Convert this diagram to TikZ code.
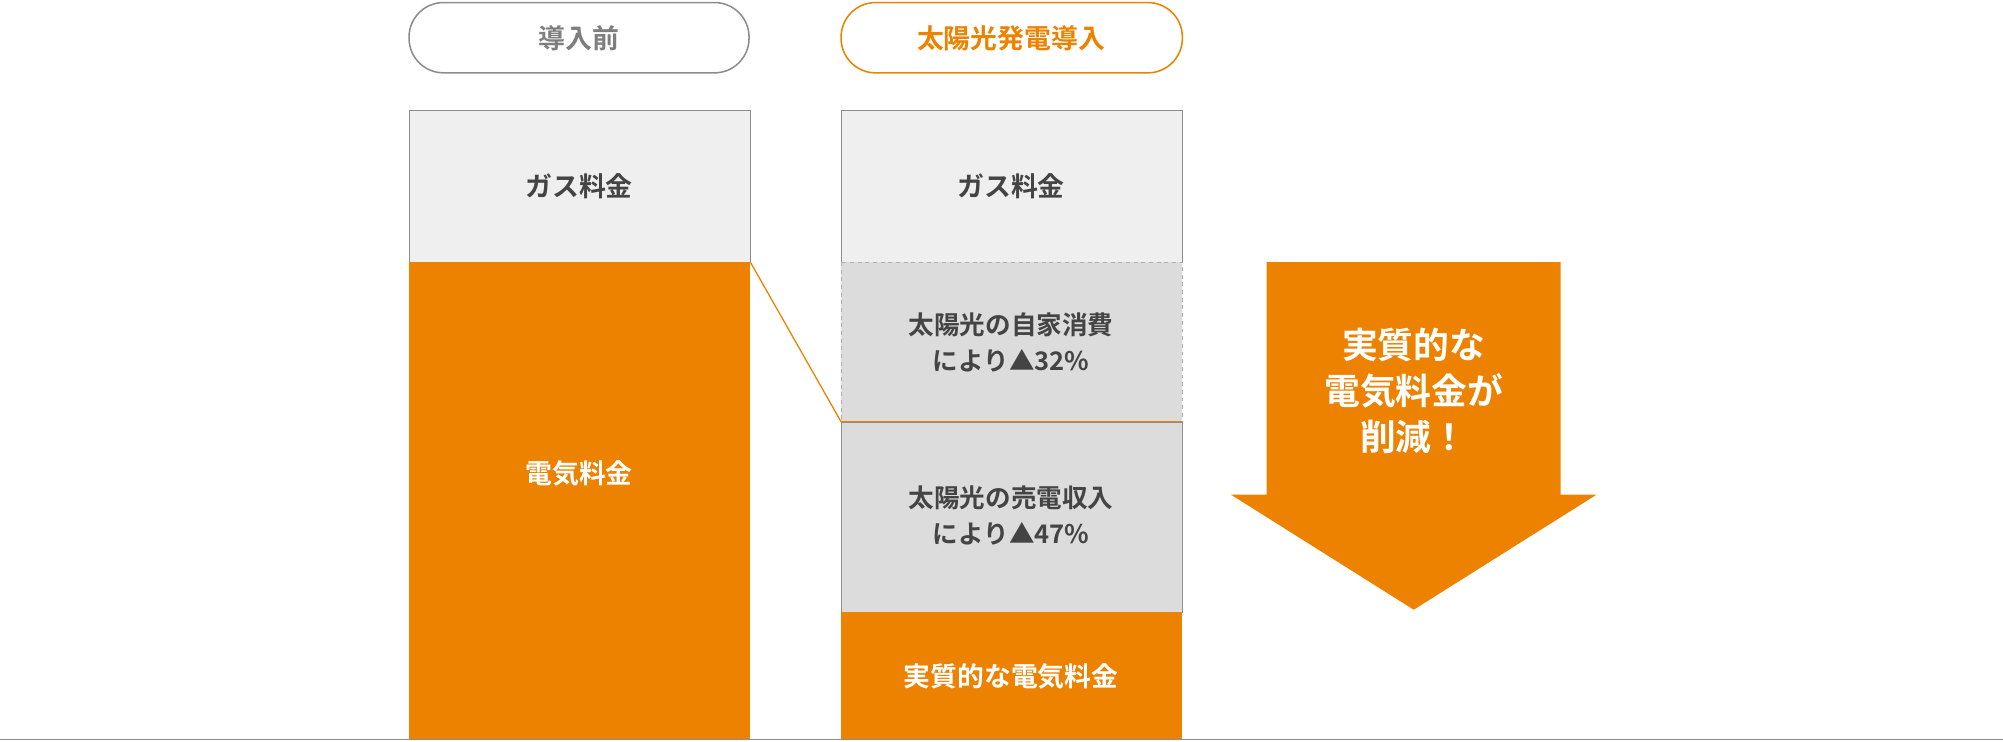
\documentclass[tikz,border=0pt]{standalone}
\usepackage{fontspec}
\setmainfont{Noto Sans CJK JP}[BoldFont={* Bold}]
\newfontfamily\jpb{Noto Sans CJK JP Bold}
\definecolor{og}{HTML}{EC8200}
\definecolor{lg}{HTML}{EFEFEF}
\definecolor{mg}{HTML}{DCDCDC}
\definecolor{bd}{HTML}{8C8C8C}
\definecolor{tx}{HTML}{444444}
\begin{document}
\begin{tikzpicture}[x=1pt,y=-1pt,
  lbl/.style={font=\jpb\fontsize{21}{26}\selectfont,align=center,text=tx},
  wl/.style={font=\jpb\fontsize{21}{26}\selectfont,align=center,text=white}]
\useasboundingbox (0,0) rectangle (1567,580);
% pills
\draw[bd,line width=1.2pt,rounded corners=27pt] (320,2) rectangle (586,57);
\node[lbl,text=bd!90!black] (p1) at (453,30) {導入前};
\draw[og,line width=1.2pt,rounded corners=27pt] (658,2) rectangle (925,57);
\node[lbl,text=og] (p2) at (791,30) {太陽光発電導入};
% left column
\draw[bd,fill=lg] (320,86) rectangle (587,205);
\node[lbl] (g1) at (453,146) {ガス料金};
\fill[og] (320,205) rectangle (587,578);
\node[wl] (e1) at (453,370) {電気料金};
% right column
\draw[bd,fill=lg] (658,86) rectangle (925,205);
\node[lbl] (g2) at (791,146) {ガス料金};
\fill[mg] (658,205) rectangle (925,330);
\draw[bd!70,dashed,line width=0.5pt] (658,205) rectangle (925,330);
\node[lbl,font=\jpb\fontsize{20}{28}\selectfont] (s1) at (791,268) {太陽光の自家消費\\により▲32\%};
\draw[bd,fill=mg] (658,330) rectangle (925,479);
\draw[og,line width=1pt] (658,330) -- (925,330);
\node[lbl,font=\jpb\fontsize{20}{28}\selectfont] (s2) at (791,403) {太陽光の売電収入\\により▲47\%};
\fill[og] (658,479) rectangle (925,578);
\node[wl] (e2) at (791,529) {実質的な電気料金};
% connector
\draw[og,line width=1pt] (587,205) -- (658,330);
% arrow
\fill[og] (991,205) -- (1221,205) -- (1221,387) -- (1249,387) -- (1106,477) -- (963,387) -- (991,387) -- cycle;
\node[wl,font=\jpb\fontsize{28}{36}\selectfont] (a) at (1106,306) {実質的な\\電気料金が\\削減！};
% baseline
\draw[bd,line width=1.2pt] (0,578.5) -- (1567,578.5);
\end{tikzpicture}
\end{document}
